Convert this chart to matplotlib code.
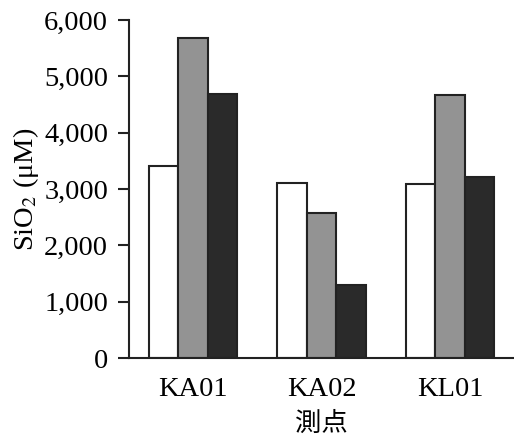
import matplotlib.pyplot as plt
import numpy as np
from matplotlib.ticker import FuncFormatter

# SiO2 concentration per station, three samples each
stations = ["KA01", "KA02", "KL01"]
sample_a = [3400, 3110, 3090]
sample_b = [5680, 2580, 4670]
sample_c = [4690, 1290, 3220]
yticks = [0, 1000, 2000, 3000, 4000, 5000, 6000]

plt.rcParams['font.family'] = ['Liberation Serif', 'Noto Sans CJK JP']
plt.rcParams['mathtext.fontset'] = 'stix'

fig = plt.figure(figsize=(5.14, 4.45), dpi=100)
ax = fig.add_axes([0.251, 0.1955, 0.749, 0.7595])

x = np.arange(len(stations))
w = 0.23
ax.bar(x - w, sample_a, w, color='white', edgecolor='#222222', linewidth=1.5)
ax.bar(x, sample_b, w, color='#939393', edgecolor='#222222', linewidth=1.5)
ax.bar(x + w, sample_c, w, color='#2a2a2a', edgecolor='#222222', linewidth=1.5)

ax.set_xlim(-0.5, 2.5)
ax.set_ylim(0, 6000)
ax.set_yticks(yticks)
ax.yaxis.set_major_formatter(FuncFormatter(lambda v, p: f"{int(v):,}"))
ax.set_xticks(x)
ax.set_xticklabels(stations)
ax.tick_params(axis='x', length=0, pad=14, labelsize=20.5)
ax.tick_params(axis='y', length=8, width=1.5, direction='out', pad=7, labelsize=20.5, color='#222222')

for s in ['top', 'right']:
    ax.spines[s].set_visible(False)
for s in ['left', 'bottom']:
    ax.spines[s].set_linewidth(1.5)
    ax.spines[s].set_color('#222222')

ax.set_ylabel(r"SiO$_2$ (μM)", fontsize=20.5, labelpad=2)
ax.set_xlabel("測点", fontsize=19, family=['Noto Sans CJK JP'], labelpad=5)

fig.savefig("out.png", dpi=100)
